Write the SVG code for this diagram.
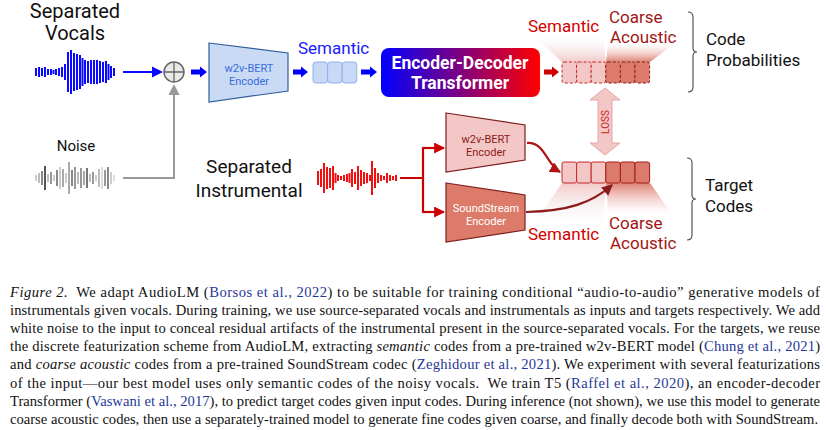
<svg xmlns="http://www.w3.org/2000/svg" width="826" height="430" viewBox="0 0 826 430">
<style>
.lbl{font-family:Roboto,"Liberation Sans",sans-serif;fill:#111}
.big{font-size:20px}
.mid{font-size:17px}
.sm{font-size:11px;text-anchor:middle}
.cap{font-family:"Liberation Serif",serif;font-size:14.6px;fill:#111}
.it{font-style:italic}
.cite{fill:#1f3799}
.blk{fill:#0000ff}
.bw{stroke:#0a0aff;stroke-width:2;fill:none}
.nw{stroke-width:2;fill:none}
.rw{stroke:#f01010;stroke-width:2;fill:none}
.brace{fill:none;stroke:#555;stroke-width:1.2}
</style>
<defs>
<linearGradient id="edg" x1="0" y1="0" x2="1" y2="0">
<stop offset="0" stop-color="#0000ff"/><stop offset="1" stop-color="#ff0000"/>
</linearGradient>
<linearGradient id="fanLU" x1="0" y1="1" x2="0" y2="0">
<stop offset="0" stop-color="#f2c2c2" stop-opacity="0.9"/><stop offset="1" stop-color="#f5f5f5" stop-opacity="0"/>
</linearGradient>
<linearGradient id="fanDU" x1="0" y1="1" x2="0" y2="0">
<stop offset="0" stop-color="#dc7a6a" stop-opacity="0.95"/><stop offset="1" stop-color="#f4c7c7" stop-opacity="0"/>
</linearGradient>
<linearGradient id="fanLD" x1="0" y1="0" x2="0" y2="1">
<stop offset="0" stop-color="#f2c2c2" stop-opacity="0.9"/><stop offset="1" stop-color="#f5f5f5" stop-opacity="0"/>
</linearGradient>
<linearGradient id="fanDD" x1="0" y1="0" x2="0" y2="1">
<stop offset="0" stop-color="#dc7a6a" stop-opacity="0.95"/><stop offset="1" stop-color="#f4c7c7" stop-opacity="0"/>
</linearGradient>
<marker id="ahR" viewBox="0 0 10 10" refX="9" refY="5" markerWidth="5" markerHeight="5" orient="auto" markerUnits="strokeWidth">
<path d="M0,0 L10,5 L0,10 z" fill="#cc0000"/>
</marker>
<marker id="ahD" viewBox="0 0 10 10" refX="9" refY="5" markerWidth="5" markerHeight="5" orient="auto" markerUnits="strokeWidth">
<path d="M0,0 L10,5 L0,10 z" fill="#b01515"/>
</marker>
<marker id="ahDD" viewBox="0 0 10 10" refX="9" refY="5" markerWidth="5" markerHeight="5" orient="auto" markerUnits="strokeWidth">
<path d="M0,0 L10,5 L0,10 z" fill="#8b1a1a"/>
</marker>
</defs>

<!-- fans (behind) -->
<g id="fans">
<polygon points="562,62 606,62 603,36 534,36" fill="url(#fanLU)"/>
<polygon points="606,62 650,62 674,44 608,44" fill="url(#fanDU)"/>
<polygon points="562,183 606,183 603,224 534,224" fill="url(#fanLD)"/>
<polygon points="606,183 650,183 672,214 608,214" fill="url(#fanDD)"/>
</g>

<g id="vocals">
<text class="lbl big" x="75" y="18" text-anchor="middle">Separated</text>
<text class="lbl big" x="75" y="40" text-anchor="middle">Vocals</text>
<path class="bw" d="M36,68v8M39,67v10M42,68v8M45,67v10M48,69v6M51,69v6M53.5,70v4M56,69v6M59,68v8M62,67v10M65,64v16M68,52v40M71,50v44M74,53v38M77,54v36M80,55v34M82.5,58v28M85,60v24M88,61v22M91,60v24M94,60v24M97,60v24M100,61v22M103,62v20M106,61v22M108.5,64v16M111,66v12M114,68v8"/>
</g>

<g id="noise">
<text class="lbl" font-size="15" x="76" y="151" text-anchor="middle">Noise</text>
<g class="nw">
<path d="M36,175v6" stroke="#ccc"/><path d="M39,173v10" stroke="#bbb"/><path d="M42,171v14" stroke="#888"/><path d="M45,166v24" stroke="#555"/><path d="M48,174v8" stroke="#bbb"/><path d="M51,172v12" stroke="#999"/><path d="M54,175v6" stroke="#ccc"/><path d="M57,170v16" stroke="#888"/><path d="M60,167v22" stroke="#ccc"/><path d="M63,169v18" stroke="#aaa"/><path d="M66,173v10" stroke="#ccc"/><path d="M69,162v32" stroke="#aaa"/><path d="M72,170v16" stroke="#888"/><path d="M75,167v22" stroke="#999"/><path d="M78,172v12" stroke="#bbb"/><path d="M81,168v20" stroke="#999"/><path d="M84,171v14" stroke="#aaa"/><path d="M87,168v20" stroke="#777"/><path d="M90,174v8" stroke="#bbb"/><path d="M93,172v12" stroke="#999"/><path d="M96,175v6" stroke="#ccc"/><path d="M99,169v18" stroke="#bbb"/><path d="M102,167v22" stroke="#ddd"/><path d="M105,170v16" stroke="#999"/><path d="M108,167v22" stroke="#888"/><path d="M111,172v12" stroke="#ccc"/><path d="M114,175v6" stroke="#ddd"/>
</g>
</g>

<g id="sum">
<circle cx="174" cy="72" r="10" fill="#e9e9e9" stroke="#666" stroke-width="1.5"/>
<path d="M164,72h20M174,62v20" stroke="#666" stroke-width="1.3"/>
</g>

<g id="w2v-blue">
<polygon points="209,43 288,53 288,91 209,102" fill="#c9daf5" stroke="#2f5f9a" stroke-width="1.2"/>
<text class="lbl sm" x="249" y="72" style="fill:#3a6ddc">w2v-BERT</text>
<text class="lbl sm" x="249" y="85" style="fill:#3a6ddc">Encoder</text>
</g>

<g id="semantic-in">
<text class="lbl mid" x="298" y="54" style="fill:#1a1aff">Semantic</text>
<rect x="313" y="62" width="14.6" height="21" rx="3" fill="#c7d9f6" stroke="#8fb2ea"/>
<rect x="327.6" y="62" width="14.6" height="21" rx="3" fill="#c7d9f6" stroke="#8fb2ea"/>
<rect x="342.2" y="62" width="14.6" height="21" rx="3" fill="#c7d9f6" stroke="#8fb2ea"/>
</g>

<g id="transformer">
<rect x="381" y="48" width="159" height="49" rx="8" fill="url(#edg)"/>
<text x="460" y="69" text-anchor="middle" font-family="Roboto,'Liberation Sans',sans-serif" font-weight="bold" font-size="17.5" fill="#fff">Encoder-Decoder</text>
<text x="460" y="89" text-anchor="middle" font-family="Roboto,'Liberation Sans',sans-serif" font-weight="bold" font-size="17.5" fill="#fff">Transformer</text>
</g>

<g id="pred-codes">
<rect x="562" y="62" width="14.6" height="21" rx="2" fill="#f4c7c7" stroke="#c62828" stroke-dasharray="3,2"/>
<rect x="576.6" y="62" width="14.6" height="21" rx="2" fill="#f4c7c7" stroke="#c62828" stroke-dasharray="3,2"/>
<rect x="591.2" y="62" width="14.6" height="21" rx="2" fill="#f4c7c7" stroke="#c62828" stroke-dasharray="3,2"/>
<rect x="605.8" y="62" width="14.6" height="21" rx="2" fill="#dc7b6b" stroke="#8b1a1a" stroke-dasharray="3,2"/>
<rect x="620.4" y="62" width="14.6" height="21" rx="2" fill="#dc7b6b" stroke="#8b1a1a" stroke-dasharray="3,2"/>
<rect x="635" y="62" width="14.6" height="21" rx="2" fill="#dc7b6b" stroke="#8b1a1a" stroke-dasharray="3,2"/>
<text class="lbl mid" x="528" y="32" style="fill:#d40000">Semantic</text>
<text class="lbl mid" x="609" y="23" style="fill:#a31515">Coarse</text>
<text class="lbl mid" x="610" y="43" style="fill:#a31515">Acoustic</text>
</g>

<g id="brace-top">
<path class="brace" d="M688,12 Q693,12 693,17 V48 Q693,52 697,52 Q693,52 693,56 V87 Q693,92 688,92"/>
<text class="lbl mid" x="706" y="45">Code</text>
<text class="lbl mid" x="706" y="66">Probabilities</text>
</g>

<g id="loss">
<polygon points="605,88 620,100 612,100 612,143 620,143 605,155 590,143 598,143 598,100 590,100" fill="#f4c7c7" stroke="#e5a3a3" stroke-width="1"/>
<text x="605" y="122" transform="rotate(-90 605 122)" text-anchor="middle" dominant-baseline="central" font-family="Roboto,'Liberation Sans',sans-serif" font-size="10" fill="#c62828">LOSS</text>
</g>

<g id="instrumental">
<text class="lbl" font-size="19" x="249" y="173" text-anchor="middle">Separated</text>
<text class="lbl" font-size="19" x="249" y="197" text-anchor="middle">Instrumental</text>
<path class="rw" d="M318,171v14M321,169v18M324,163v30M327,167v22M330,168v20M333,166v24M335.5,173v10M338,175v6M341,176v4M344,175v6M347,174v8M349.5,173v10M352,169v18M355,172v12M358,166v24M361,170v16M364,172v12M367,173v10M370,175v6M372,161v34M375,168v20M378,173v10M381,175v6M384,176v4M387,173v10M390,175v6M393,176v4M396,175v6"/>
</g>

<g id="w2v-red">
<polygon points="446,113 525,125 525,160 446,172" fill="#f4c7c7" stroke="#7f1d1d" stroke-width="1.2"/>
<text class="lbl sm" x="486" y="143" style="fill:#8b1a1a">w2v-BERT</text>
<text class="lbl sm" x="486" y="156" style="fill:#8b1a1a">Encoder</text>
</g>

<g id="soundstream">
<polygon points="446,183 525,195 525,230 446,242" fill="#dc7b69" stroke="#7f1d1d" stroke-width="1.2"/>
<text class="lbl sm" x="486" y="212" style="fill:#fff">SoundStream</text>
<text class="lbl sm" x="486" y="225" style="fill:#fff">Encoder</text>
</g>

<g id="target-codes">
<rect x="562" y="162" width="14.6" height="21" rx="2" fill="#f4c7c7" stroke="#c62828"/>
<rect x="576.6" y="162" width="14.6" height="21" rx="2" fill="#f4c7c7" stroke="#c62828"/>
<rect x="591.2" y="162" width="14.6" height="21" rx="2" fill="#f4c7c7" stroke="#c62828"/>
<rect x="605.8" y="162" width="14.6" height="21" rx="2" fill="#dc7b6b" stroke="#a31c1c"/>
<rect x="620.4" y="162" width="14.6" height="21" rx="2" fill="#dc7b6b" stroke="#a31c1c"/>
<rect x="635" y="162" width="14.6" height="21" rx="2" fill="#dc7b6b" stroke="#a31c1c"/>
<text class="lbl mid" x="528" y="240" style="fill:#d40000">Semantic</text>
<text class="lbl mid" x="609" y="229" style="fill:#a31515">Coarse</text>
<text class="lbl mid" x="610" y="249" style="fill:#a31515">Acoustic</text>
</g>

<g id="brace-bottom">
<path class="brace" d="M687,158 Q692,158 692,163 V195 Q692,199 696,199 Q692,199 692,203 V235 Q692,240 687,240"/>
<text class="lbl mid" x="705" y="191">Target</text>
<text class="lbl mid" x="705" y="212">Codes</text>
</g>

<g id="connectors">
<path d="M123,72H153" stroke="#0a0aff" stroke-width="2"/>
<polygon points="152,66.5 163,72 152,77.5" fill="#0a0aff"/>
<path d="M123,178H174V95" stroke="#999" stroke-width="2" fill="none"/>
<polygon points="168.5,95 174,84 179.5,95" fill="#999"/>
<polygon class="blk" points="191,69.5 200,69.5 200,66.5 207,72 200,77.5 200,74.5 191,74.5"/>
<polygon class="blk" points="293,69.5 301,69.5 301,66.5 308,72 301,77.5 301,74.5 293,74.5"/>
<polygon class="blk" points="361,69.5 370,69.5 370,66.5 377,72 370,77.5 370,74.5 361,74.5"/>
<polygon fill="#cc0000" points="544,69.5 552,69.5 552,66.5 559,72 552,77.5 552,74.5 544,74.5"/>
<path d="M400,178H423M423,148V212" stroke="#cc0000" stroke-width="2.2" fill="none"/>
<path d="M422,148H444" stroke="#cc0000" stroke-width="2.2" fill="none" marker-end="url(#ahR)"/>
<path d="M422,212H444" stroke="#cc0000" stroke-width="2.2" fill="none" marker-end="url(#ahR)"/>
<path d="M527,143 C545,142 546,164 560,172" stroke="#b01515" stroke-width="2.2" fill="none" marker-end="url(#ahD)"/>
<path d="M526,212 C568,211 592,203 612,185" stroke="#8b1a1a" stroke-width="2.2" fill="none" marker-end="url(#ahDD)"/>
</g>

<g id="caption" class="cap">
<text x="10" y="297" textLength="810" lengthAdjust="spacing"><tspan class="it">Figure 2.</tspan>&#160; We adapt AudioLM (<tspan class="cite">Borsos et al., 2022</tspan>) to be suitable for training conditional “audio-to-audio” generative models of</text>
<text x="10" y="315" textLength="810" lengthAdjust="spacing">instrumentals given vocals. During training, we use source-separated vocals and instrumentals as inputs and targets respectively. We add</text>
<text x="10" y="333" textLength="810" lengthAdjust="spacing">white noise to the input to conceal residual artifacts of the instrumental present in the source-separated vocals. For the targets, we reuse</text>
<text x="10" y="351" textLength="810" lengthAdjust="spacing">the discrete featurization scheme from AudioLM, extracting <tspan class="it">semantic</tspan> codes from a pre-trained w2v-BERT model (<tspan class="cite">Chung et al., 2021</tspan>)</text>
<text x="10" y="369" textLength="810" lengthAdjust="spacing">and <tspan class="it">coarse acoustic</tspan> codes from a pre-trained SoundStream codec (<tspan class="cite">Zeghidour et al., 2021</tspan>). We experiment with several featurizations</text>
<text x="10" y="388" textLength="810" lengthAdjust="spacing">of the input—our best model uses only semantic codes of the noisy vocals.&#160; We train T5 (<tspan class="cite">Raffel et al., 2020</tspan>), an encoder-decoder</text>
<text x="10" y="406" textLength="810" lengthAdjust="spacing">Transformer (<tspan class="cite">Vaswani et al., 2017</tspan>), to predict target codes given input codes. During inference (not shown), we use this model to generate</text>
<text x="10" y="424">coarse acoustic codes, then use a separately-trained model to generate fine codes given coarse, and finally decode both with SoundStream.</text>
</g>
</svg>
